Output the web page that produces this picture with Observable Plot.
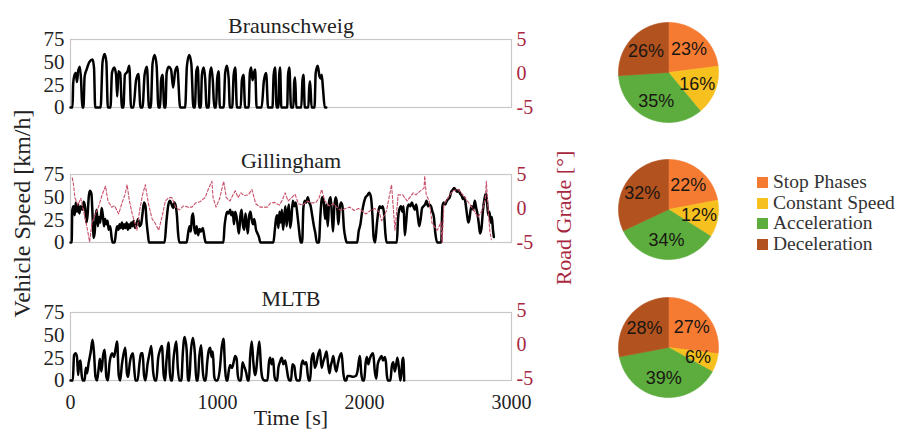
<!DOCTYPE html>
<html><head><meta charset="utf-8">
<script src="https://cdn.jsdelivr.net/npm/d3@7"></script>
<script src="https://cdn.jsdelivr.net/npm/@observablehq/plot@0.6"></script>
<style>
html,body{margin:0;padding:0;background:#fff;}
#root{position:relative;width:903px;height:437px;overflow:hidden;font-family:"Liberation Serif",serif;color:#222;}
#root > *{position:absolute;}
.rot{width:360px;text-align:center;transform:rotate(-90deg);transform-origin:50% 50%;white-space:nowrap;font-family:"Liberation Serif",serif;}
.leg{font-family:"Liberation Serif",serif;font-size:19.5px;line-height:20.5px;color:#333;}
.leg div{height:20.5px;white-space:nowrap;}
.leg span.sw{display:inline-block;width:11px;height:11px;margin-right:5px;vertical-align:0px;}
</style></head><body><div id="root"></div>
<script>
// ---------- data ----------
const cycles = ["Braunschweig", "Gillingham", "MLTB"];
const speedTicks = [0, 25, 50, 75];
const gradeTicks = [-5, 0, 5];
const timeTicks = [0, 1000, 2000, 3000];
const phases = ["Stop Phases", "Constant Speed", "Acceleration", "Deceleration"];
const phaseColors = ["#f57b32", "#f6c11e", "#5cad3e", "#b2521e"];
const shareBraunschweig = [23, 16, 35, 26];
const shareGillingham = [22, 12, 34, 32];
const shareMLTB = [27, 6, 39, 28];

// [time s, speed km/h]
const speedBraunschweig = [[0,0],[14,0],[18,26],[26,35],[36,38],[44,28],[52,40],[64,45],[72,30],[80,0],[88,0],[96,34],[110,42],[128,50],[150,53],[160,44],[168,0],[205,0],[218,50],[232,59],[244,50],[254,0],[272,0],[282,38],[298,44],[310,36],[318,12],[326,40],[338,38],[350,0],[360,0],[370,36],[388,40],[400,46],[412,0],[428,0],[446,30],[462,37],[476,0],[490,0],[504,36],[520,45],[534,0],[546,0],[558,48],[572,58],[586,46],[598,0],[610,0],[616,30],[626,36],[638,0],[646,0],[654,38],[668,45],[684,42],[698,22],[712,40],[726,45],[746,0],[780,0],[792,46],[808,58],[822,48],[836,0],[846,0],[856,40],[866,45],[876,0],[886,0],[894,36],[906,44],[916,32],[926,0],[940,0],[948,36],[958,44],[968,30],[978,0],[990,0],[998,32],[1008,40],[1016,0],[1042,0],[1052,38],[1064,46],[1076,32],[1084,0],[1100,0],[1110,36],[1121,44],[1132,0],[1158,0],[1166,30],[1177,36],[1188,0],[1212,0],[1220,38],[1229,44],[1238,30],[1248,38],[1256,42],[1266,0],[1300,0],[1316,30],[1331,38],[1344,0],[1374,0],[1382,36],[1392,44],[1402,0],[1414,0],[1420,36],[1426,44],[1434,0],[1474,0],[1480,36],[1489,44],[1500,0],[1516,0],[1522,28],[1528,33],[1536,0],[1570,0],[1578,30],[1585,36],[1594,0],[1618,0],[1624,22],[1630,29],[1640,0],[1660,0],[1668,38],[1682,46],[1694,34],[1702,32],[1709,36],[1718,20],[1730,0],[1740,0]];

const speedGillingham = [[0,0],[8,0],[12,35],[20,40],[28,30],[36,44],[44,34],[52,42],[60,32],[70,40],[80,36],[90,45],[100,38],[108,22],[116,30],[124,50],[132,57],[142,54],[150,30],[156,5],[164,10],[172,30],[178,36],[186,18],[194,28],[202,22],[212,38],[220,30],[228,18],[236,26],[244,20],[252,24],[260,14],[270,18],[280,5],[286,0],[300,0],[310,12],[318,18],[326,14],[334,20],[342,16],[350,22],[358,15],[366,20],[374,16],[382,22],[390,14],[398,20],[406,16],[414,22],[422,18],[430,24],[440,16],[450,20],[460,26],[470,18],[480,20],[490,32],[500,44],[510,40],[518,22],[526,10],[534,0],[556,0],[600,0],[640,0],[652,22],[664,40],[676,46],[688,42],[698,38],[706,44],[716,40],[724,30],[732,10],[740,0],[790,0],[800,10],[810,18],[818,12],[826,28],[834,32],[842,16],[850,10],[858,18],[868,8],[878,15],[888,12],[900,16],[912,5],[920,0],[1040,0],[1048,18],[1056,28],[1066,34],[1076,32],[1086,36],[1094,30],[1104,34],[1112,20],[1120,34],[1130,28],[1138,18],[1146,10],[1156,30],[1164,36],[1172,20],[1182,14],[1190,32],[1198,22],[1206,10],[1216,30],[1224,34],[1232,26],[1242,20],[1250,26],[1262,14],[1272,10],[1282,6],[1292,0],[1380,0],[1390,14],[1398,26],[1406,30],[1414,16],[1422,34],[1430,22],[1438,36],[1446,14],[1454,28],[1462,40],[1470,18],[1478,34],[1486,42],[1494,16],[1502,24],[1512,46],[1522,40],[1532,44],[1544,30],[1556,12],[1566,0],[1576,0],[1584,38],[1594,46],[1604,44],[1614,50],[1624,44],[1634,40],[1644,30],[1656,18],[1666,10],[1676,0],[1690,0],[1700,30],[1712,50],[1722,46],[1732,26],[1740,42],[1750,18],[1760,46],[1770,50],[1778,30],[1786,12],[1794,38],[1804,50],[1812,44],[1822,20],[1830,36],[1840,44],[1850,40],[1860,16],[1870,5],[1880,0],[1950,0],[1960,12],[1972,20],[1984,34],[1996,44],[2008,50],[2020,52],[2032,55],[2044,50],[2054,30],[2062,6],[2072,0],[2084,20],[2094,34],[2104,40],[2114,38],[2124,40],[2134,30],[2142,10],[2150,0],[2220,0],[2228,26],[2236,36],[2248,40],[2258,34],[2266,40],[2274,8],[2282,20],[2292,38],[2302,42],[2312,40],[2322,44],[2332,40],[2342,36],[2352,42],[2362,30],[2372,18],[2382,26],[2392,38],[2402,40],[2412,42],[2422,46],[2432,40],[2442,42],[2452,40],[2462,34],[2472,28],[2482,10],[2494,0],[2522,0],[2530,40],[2540,44],[2550,42],[2560,46],[2570,48],[2580,50],[2590,56],[2600,58],[2610,60],[2620,58],[2630,56],[2640,58],[2650,54],[2660,52],[2670,48],[2680,50],[2690,40],[2698,30],[2706,22],[2714,26],[2722,36],[2730,40],[2740,36],[2750,46],[2760,38],[2770,30],[2778,20],[2786,10],[2796,16],[2806,36],[2816,48],[2826,54],[2834,44],[2842,30],[2850,34],[2858,22],[2866,28],[2874,14],[2880,6]];

// [time s, road grade deg]
const gradeGillingham = [[12,4.5],[20,3.6],[30,1.6],[50,0.5],[70,1.5],[90,-0.5],[110,-2.5],[130,-4.9],[145,-2.3],[165,-1],[190,0.2],[215,2],[238,3.3],[255,1.1],[280,0.2],[300,0.4],[328,-0.8],[350,0.8],[370,2],[385,3.5],[400,1.2],[420,-0.8],[452,-3.2],[470,-0.3],[490,2],[509,3.5],[530,0.7],[555,-1.5],[577,-2.2],[600,-3.2],[625,-1],[645,1.1],[668,1.6],[690,1.6],[715,0.2],[740,-0.2],[770,0.4],[800,0.2],[826,0.2],[850,0.8],[880,1],[916,1.6],[940,3],[962,4],[970,1.6],[990,0.2],[1015,1.5],[1042,4],[1060,1.6],[1085,1.1],[1105,2],[1121,2.6],[1140,1.6],[1160,2.3],[1180,1.9],[1210,2],[1234,2.8],[1260,0.7],[1290,0.2],[1313,0.2],[1340,0.2],[1360,0.8],[1390,0.9],[1420,0.5],[1440,1.2],[1460,2.3],[1480,1.1],[1500,1.5],[1528,2.1],[1550,0.7],[1580,0.5],[1610,1.1],[1640,0.8],[1670,0.9],[1690,1.5],[1709,2.8],[1730,1.1],[1760,0.4],[1790,0.7],[1810,0.2],[1840,-0.3],[1870,0],[1900,0.2],[1930,-0.3],[1960,0],[1980,-0.3],[2010,-0.8],[2040,-0.3],[2070,0],[2100,-0.5],[2116,-1.8],[2150,-0.3],[2184,3.5],[2196,0],[2207,-3.2],[2229,2],[2260,2],[2290,1.1],[2331,2.3],[2350,2],[2380,2.6],[2405,3],[2410,4.8],[2420,2],[2440,1.1],[2460,-2.2],[2495,-3.2],[2520,-2],[2528,-5],[2540,0.6],[2569,1.6],[2600,2.6],[2637,2.8],[2670,2],[2700,1.1],[2730,0.2],[2772,-1.3],[2800,-0.3],[2822,1.5],[2829,4],[2840,0.2],[2852,-3.2],[2863,-4.6]];

const speedMLTB = [[0,0],[16,0],[24,28],[34,30],[44,26],[52,6],[60,20],[68,22],[76,6],[84,0],[96,0],[104,14],[112,8],[124,20],[138,32],[150,45],[160,30],[170,4],[180,0],[192,14],[200,24],[210,10],[222,28],[233,34],[244,4],[254,0],[266,20],[283,30],[296,26],[308,36],[317,43],[328,6],[338,0],[350,18],[362,30],[373,36],[384,8],[392,4],[404,20],[415,28],[425,30],[434,12],[442,0],[456,0],[470,20],[480,30],[491,30],[500,6],[510,0],[524,18],[538,30],[550,38],[562,10],[574,0],[584,0],[596,24],[610,34],[622,38],[634,6],[644,0],[652,20],[660,34],[667,42],[676,8],[684,0],[692,0],[700,22],[710,36],[720,43],[730,14],[740,0],[754,0],[764,30],[776,48],[790,34],[800,0],[808,0],[818,30],[833,47],[846,30],[856,0],[866,0],[876,26],[889,39],[900,10],[910,0],[920,0],[930,20],[942,34],[950,36],[960,26],[968,32],[978,4],[988,0],[1000,0],[1014,10],[1030,38],[1041,46],[1052,12],[1060,0],[1068,0],[1076,10],[1086,17],[1096,14],[1104,16],[1112,22],[1120,27],[1130,24],[1138,6],[1148,0],[1160,0],[1170,20],[1180,16],[1196,8],[1206,0],[1214,0],[1222,26],[1233,43],[1244,20],[1254,6],[1262,10],[1274,30],[1285,43],[1296,14],[1305,3],[1320,0],[1340,0],[1350,20],[1358,25],[1368,18],[1378,24],[1388,4],[1398,0],[1406,0],[1414,14],[1424,20],[1437,25],[1448,18],[1460,22],[1470,14],[1480,4],[1490,0],[1500,0],[1510,18],[1522,16],[1532,4],[1540,0],[1560,0],[1570,16],[1580,22],[1592,18],[1604,20],[1614,6],[1622,0],[1630,0],[1640,24],[1652,30],[1662,14],[1672,18],[1684,28],[1697,34],[1708,14],[1718,20],[1730,26],[1742,32],[1752,18],[1762,8],[1770,16],[1780,22],[1788,27],[1798,16],[1808,10],[1818,18],[1830,26],[1844,30],[1856,8],[1866,0],[1876,0],[1884,5],[1900,5],[1920,4],[1940,5],[1952,10],[1962,22],[1969,27],[1978,8],[1988,0],[1998,0],[2008,20],[2016,26],[2026,18],[2036,24],[2046,28],[2059,30],[2070,10],[2080,2],[2090,18],[2104,24],[2116,27],[2126,22],[2138,26],[2146,20],[2152,6],[2160,0],[2176,0],[2186,16],[2196,20],[2206,10],[2216,18],[2224,25],[2234,14],[2244,0],[2250,6],[2258,22],[2264,25],[2270,0]];

// ---------- drawing ----------
const RED = "#a8283f";
const root = document.getElementById("root");
const gradeToSpeed = g => (g + 5) * 7.5; // right axis shares the left scale: -5..5 deg <-> 0..75 km/h

function speedPanel(name, speed, grade, frameTop, last) {
  const mt = 40, ph = 68, mb = last ? 60 : 6;
  const marks = [
    Plot.frame({stroke: "#c8c8c8", strokeWidth: 1.2}),
    Plot.axisY(speedTicks, {anchor: "left", tickSize: 0, tickPadding: 6, label: null}),
    Plot.axisY(gradeTicks.map(gradeToSpeed), {anchor: "right", tickSize: 0, tickPadding: 5, label: null,
      tickFormat: v => String(Math.round(v / 7.5 - 5)), fill: RED, color: RED, fontSize: 20, dy: last ? -2 : 0}),
    Plot.text([name], {text: d => d, frameAnchor: "top", dy: -22, fontSize: 22})
  ];
  if (last) {
    marks.push(Plot.axisX(timeTicks, {anchor: "bottom", tickSize: 0, tickPadding: 14, label: null, fontSize: 20, tickFormat: d => String(d)}));
    marks.push(Plot.text(["Time [s]"], {text: d => d, frameAnchor: "bottom", dy: 44, fontSize: 22}));
  }
  marks.push(Plot.line(speed, {x: d => d[0], y: d => d[1], stroke: "#000", strokeWidth: 2.5, curve: "monotone-x"}));
  if (grade) marks.push(Plot.line(grade, {x: d => d[0], y: d => gradeToSpeed(d[1]), stroke: "#c8506a", strokeWidth: 1.1, strokeDasharray: "3,2"}));
  const svg = Plot.plot({
    width: 600, height: mt + ph + mb,
    marginTop: mt, marginBottom: mb, marginLeft: 70, marginRight: 89,
    style: {fontFamily: "'Liberation Serif', serif", fontSize: "21px", color: "#222", background: "transparent", overflow: "visible"},
    x: {domain: [0, 3000], ...(last ? {} : {axis: null})},
    y: {domain: [0, 75]},
    marks
  });
  svg.style.left = "0px";
  svg.style.top = (frameTop - mt) + "px";
  root.appendChild(svg);
}

speedPanel(cycles[0], speedBraunschweig, null, 39, false);
speedPanel(cycles[1], speedGillingham, gradeGillingham, 174, false);
speedPanel(cycles[2], speedMLTB, null, 312, true);

function pieChart(shares, cx, cy) {
  const R = 50, pad = 3;
  const arcs = d3.pie().sort(null)(shares);
  const slices = arcs.map((a, i) => {
    const pts = [[0, 0]];
    const n = Math.max(2, Math.ceil((a.endAngle - a.startAngle) / 0.03));
    for (let j = 0; j <= n; j++) {
      const t = a.startAngle + (a.endAngle - a.startAngle) * j / n;
      pts.push([R * Math.sin(t), R * Math.cos(t)]);
    }
    pts.push([0, 0]);
    return Plot.line(pts, {x: d => d[0], y: d => d[1], fill: phaseColors[i], stroke: phaseColors[i], strokeWidth: 0.6});
  });
  const mid = a => (a.startAngle + a.endAngle) / 2;
  const svg = Plot.plot({
    width: 2 * (R + pad), height: 2 * (R + pad), margin: 0,
    x: {domain: [-R - pad, R + pad], axis: null},
    y: {domain: [-R - pad, R + pad], axis: null},
    style: {background: "transparent", overflow: "visible"},
    marks: [
      ...slices,
      Plot.text(arcs, {x: a => 0.62 * R * Math.sin(mid(a)), y: a => 0.62 * R * Math.cos(mid(a)),
        text: a => a.data + "%", fontFamily: "'Liberation Sans', Arial, sans-serif", fontSize: 18, fill: "#1a1612"})
    ]
  });
  svg.style.left = (cx - R - pad) + "px";
  svg.style.top = (cy - R - pad) + "px";
  root.appendChild(svg);
}
pieChart(shareBraunschweig, 668, 72);
pieChart(shareGillingham, 668, 209);
pieChart(shareMLTB, 668, 347);

// legend
const leg = document.createElement("div");
leg.className = "leg";
leg.style.left = "757px"; leg.style.top = "172px";
leg.style.fontFamily = "'Liberation Serif', serif";
phases.forEach((p, i) => {
  const row = document.createElement("div");
  row.innerHTML = `<span class="sw" style="background:${phaseColors[i]}"></span>${p}`;
  leg.appendChild(row);
});
root.appendChild(leg);

// axis titles shared across panels
const yl = document.createElement("div");
yl.className = "rot"; yl.textContent = "Vehicle Speed [km/h]";
yl.style.fontSize = "24px"; yl.style.left = (22 - 180) + "px"; yl.style.top = (214 - 14) + "px";
root.appendChild(yl);
const yr = document.createElement("div");
yr.className = "rot"; yr.textContent = "Road Grade [°]";
yr.style.fontSize = "22px"; yr.style.color = RED; yr.style.left = (564 - 180) + "px"; yr.style.top = (218 - 13) + "px";
root.appendChild(yr);
</script></body></html>
